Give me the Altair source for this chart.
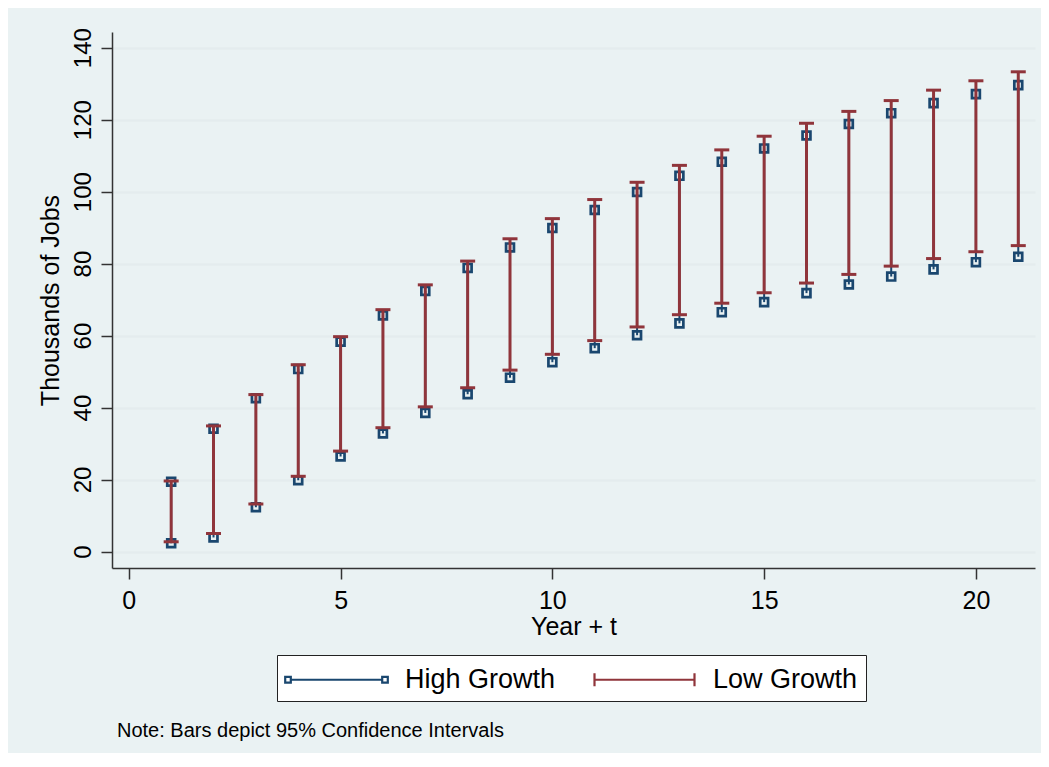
import altair as alt
import pandas as pd

# ---------------- data ----------------
years = list(range(1, 22))
high_lo = [2.3, 3.9, 12.3, 19.8, 26.4, 32.8, 38.5, 43.7, 48.3, 52.6, 56.5,
           60.1, 63.4, 66.5, 69.3, 71.8, 74.2, 76.4, 78.4, 80.4, 81.9]
high_hi = [19.4, 34.1, 42.6, 50.7, 58.3, 65.6, 72.4, 78.8, 84.5, 89.9, 94.9,
           99.9, 104.4, 108.3, 112.0, 115.6, 118.8, 121.8, 124.6, 127.1, 129.6]
low_lo = [2.7, 5.0, 13.2, 20.9, 27.9, 34.4, 40.2, 45.5, 50.4, 54.8, 58.6,
          62.4, 65.8, 69.0, 71.9, 74.6, 77.0, 79.3, 81.4, 83.3, 85.0]
low_hi = [19.6, 34.9, 43.6, 51.9, 59.7, 67.2, 74.1, 80.7, 86.9, 92.5, 97.8,
          102.6, 107.3, 111.6, 115.4, 119.0, 122.3, 125.3, 128.2, 130.8, 133.3]
series_names = ["High Growth", "Low Growth"]
x_ticks = [0, 5, 10, 15, 20]
y_ticks = [0, 20, 40, 60, 80, 100, 120, 140]
x_title = "Year + t"
y_title = "Thousands of Jobs"
note_text = "Note: Bars depict 95% Confidence Intervals"

# ---------------- style ----------------
BLUE = "#1A476F"
RED = "#90353B"
BG = "#EAF2F3"
GRID = "#E4ECEE"
AXIS = "#333333"
FONT = "Liberation Sans, Arial, Helvetica, sans-serif"

# legend symbol paths (unit = r px, r = sqrt(symbolSize)/2)
R = 15.0
def u(px):
    return f"{px / R:.4f}"

sq_c, sq_h = 48.5, 2.8
hg_path = (f"M-{u(sq_c - sq_h)},0L{u(sq_c - sq_h)},0"
           f"M-{u(sq_c + sq_h)},-{u(sq_h)}L-{u(sq_c - sq_h)},-{u(sq_h)}"
           f"L-{u(sq_c - sq_h)},{u(sq_h)}L-{u(sq_c + sq_h)},{u(sq_h)}Z"
           f"M{u(sq_c - sq_h)},-{u(sq_h)}L{u(sq_c + sq_h)},-{u(sq_h)}"
           f"L{u(sq_c + sq_h)},{u(sq_h)}L{u(sq_c - sq_h)},{u(sq_h)}Z")
cap_x, cap_h = 50.0, 6.5
lg_path = (f"M-{u(cap_x)},0L{u(cap_x)},0"
           f"M-{u(cap_x)},-{u(cap_h)}L-{u(cap_x)},{u(cap_h)}"
           f"M{u(cap_x)},-{u(cap_h)}L{u(cap_x)},{u(cap_h)}")

# ---------------- tables ----------------
df = pd.DataFrame({"year": years, "high_lo": high_lo, "high_hi": high_hi,
                   "low_lo": low_lo, "low_hi": low_hi})
high_pts = pd.DataFrame({"year": years + years, "value": high_lo + high_hi})
low_pts = pd.DataFrame({"year": years + years, "value": low_lo + low_hi})
legend_df = pd.DataFrame({"series": series_names})

x_scale = alt.Scale(domain=[-0.397, 21.395], nice=False, zero=False)
y_scale = alt.Scale(domain=[-4.585, 144.36], nice=False, zero=False)

x_axis = alt.Axis(values=x_ticks, grid=False, title=x_title,
                  labelFont=FONT, labelFontSize=25, labelColor="black",
                  labelPadding=9, labelFlush=False, labelOverlap=False,
                  tickSize=11, tickColor=AXIS, tickWidth=1.5,
                  domainColor=AXIS, domainWidth=1.5,
                  titleFont=FONT, titleFontSize=25, titleFontWeight="normal",
                  titleColor="black", titleBaseline="alphabetic", titleY=66)
y_axis = alt.Axis(values=y_ticks, grid=True, gridColor=GRID, gridWidth=2.5,
                  title=y_title,
                  labelFont=FONT, labelFontSize=24, labelColor="black",
                  labelAngle=270, labelAlign="center", labelBaseline="alphabetic",
                  labelPadding=11, labelOverlap=False,
                  tickSize=11, tickColor=AXIS, tickWidth=1.5,
                  domainColor=AXIS, domainWidth=1.5,
                  titleFont=FONT, titleFontSize=25, titleFontWeight="normal",
                  titleColor="black", titleAngle=270, titleBaseline="alphabetic",
                  titleAlign="center", titleX=-54)

X = alt.X("year:Q", scale=x_scale, axis=x_axis)

def Y(field):
    return alt.Y(f"{field}:Q", scale=y_scale, axis=y_axis)

blue_rule = alt.Chart(df).mark_rule(color=BLUE, strokeWidth=2).encode(
    x=X, y=Y("high_lo"), y2="high_hi:Q")
blue_sq = alt.Chart(high_pts).mark_point(
    shape="square", filled=False, color=BLUE, size=62, strokeWidth=2.7, opacity=1
).encode(x=X, y=Y("value"))
red_rule = alt.Chart(df).mark_rule(color=RED, strokeWidth=3).encode(
    x=X, y=Y("low_lo"), y2="low_hi:Q")
red_cap = alt.Chart(low_pts).mark_tick(
    color=RED, orient="horizontal", size=15, thickness=3, opacity=1
).encode(x=X, y=Y("value"))

leg = alt.Legend(title=None, orient="none", legendX=165, legendY=623,
                 direction="horizontal", columns=2, columnPadding=34,
                 padding=8, strokeColor="#222222", fillColor="white",
                 labelFont=FONT, labelFontSize=27, labelColor="black",
                 labelLimit=400, labelOffset=52,
                 symbolSize=(2 * R) ** 2, symbolOffset=35,
                 symbolStrokeWidth=2.2, symbolOpacity=1)

legend_layer = alt.Chart(legend_df).mark_point(filled=False, opacity=0).encode(
    color=alt.Color("series:N",
                    scale=alt.Scale(domain=series_names, range=[BLUE, RED]),
                    legend=leg),
    shape=alt.Shape("series:N",
                    scale=alt.Scale(domain=series_names, range=[hg_path, lg_path]),
                    legend=leg),
)

chart = alt.layer(blue_rule, blue_sq, red_rule, red_cap, legend_layer).properties(
    width=923, height=536,
    padding={"left": 104, "top": 24, "right": 6, "bottom": 185},
    autosize=alt.AutoSizeParams(type="none"),
    title=alt.TitleParams(text=note_text, orient="bottom", anchor="start",
                          frame="group", offset=19, dx=5, font=FONT,
                          fontSize=20, fontWeight="normal", color="black"),
).configure(background=BG).configure_view(fill="white", stroke="transparent")

chart.save("out.html", embed_options={"renderer": "svg", "actions": False})
